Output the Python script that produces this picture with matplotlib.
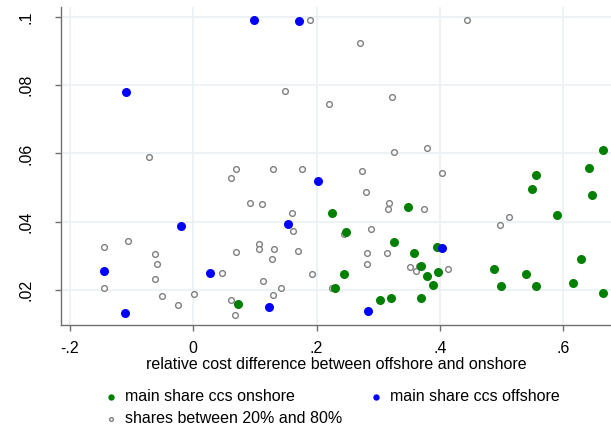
import matplotlib.pyplot as plt

plt.rcParams['font.family'] = ['Liberation Sans', 'DejaVu Sans']

# main share ccs onshore
on_x = [0.073, 0.225, 0.248, 0.230, 0.245, 0.303, 0.321, 0.326, 0.348, 0.358,
        0.369, 0.379, 0.389, 0.369, 0.397, 0.395, 0.556, 0.549, 0.590, 0.641,
        0.646, 0.664, 0.628, 0.487, 0.499, 0.539, 0.556, 0.615, 0.664]
on_y = [0.0159, 0.0426, 0.0370, 0.0206, 0.0247, 0.0171, 0.0177, 0.0341, 0.0443, 0.0308,
        0.0270, 0.0241, 0.0215, 0.0177, 0.0253, 0.0326, 0.0537, 0.0496, 0.0420, 0.0558,
        0.0478, 0.0610, 0.0291, 0.0262, 0.0212, 0.0247, 0.0212, 0.0221, 0.0191]

# main share ccs offshore
off_x = [0.099, 0.172, -0.109, -0.019, -0.144, 0.028, -0.110, 0.202, 0.154, 0.123,
         0.283, 0.403]
off_y = [0.0991, 0.0988, 0.0780, 0.0388, 0.0256, 0.0250, 0.0133, 0.0519, 0.0393, 0.0150,
         0.0138, 0.0323]

# shares between 20% and 80%
mix_x = [-0.071, 0.190, 0.270, 0.149, 0.220, 0.322, 0.326, 0.379, 0.444, 0.070,
         0.062, 0.092, 0.112, -0.105, -0.144, -0.062, -0.058, -0.062, -0.144, -0.050,
         -0.024, 0.002, 0.047, 0.062, 0.068, 0.070, 0.107, 0.107, 0.130, 0.177,
         0.274, 0.403, 0.280, 0.317, 0.316, 0.374, 0.160, 0.162, 0.244, 0.288,
         0.131, 0.170, 0.128, 0.282, 0.314, 0.282, 0.193, 0.351, 0.361, 0.114,
         0.143, 0.130, 0.225, 0.413, 0.512, 0.497, 0.366]
mix_y = [0.0590, 0.0991, 0.0924, 0.0783, 0.0745, 0.0766, 0.0604, 0.0616, 0.0991, 0.0555,
         0.0528, 0.0455, 0.0452, 0.0344, 0.0326, 0.0305, 0.0276, 0.0232, 0.0206, 0.0182,
         0.0156, 0.0188, 0.0250, 0.0171, 0.0127, 0.0311, 0.0335, 0.0320, 0.0555, 0.0555,
         0.0549, 0.0543, 0.0487, 0.0455, 0.0437, 0.0437, 0.0426, 0.0373, 0.0364, 0.0379,
         0.0320, 0.0314, 0.0291, 0.0308, 0.0308, 0.0276, 0.0247, 0.0267, 0.0256, 0.0226,
         0.0206, 0.0185, 0.0206, 0.0262, 0.0414, 0.0390, 0.0270]

xticks = [-0.2, 0, 0.2, 0.4, 0.6]
xlabels = ['-.2', '0', '.2', '.4', '.6']
yticks = [0.02, 0.04, 0.06, 0.08, 0.1]
ylabels = ['.02', '.04', '.06', '.08', '.1']

fig = plt.figure(figsize=(6.11, 4.26), dpi=100)
ax = fig.add_axes([61/611, 1 - 325/426, 550/611, 318/426])

h_mix = ax.scatter(mix_x, mix_y, s=17, facecolors='white', edgecolors='#7f7f7f',
                   linewidths=1.0, zorder=3, label='shares between 20% and 80%')
h_on = ax.scatter(on_x, on_y, s=30, color='#008000', zorder=4,
                  label='main share ccs onshore')
h_off = ax.scatter(off_x, off_y, s=30, color='#0000ff', zorder=5,
                   label='main share ccs offshore')

ax.set_xlim(-0.214, 0.677)
ax.set_ylim(0.0097, 0.1029)
ax.set_xticks(xticks)
ax.set_xticklabels(xlabels)
ax.set_yticks(yticks)
ax.set_yticklabels(ylabels, rotation=90, va='center')
ax.grid(True, color='#eaf1f3', linewidth=1.2, zorder=0)
ax.set_axisbelow(True)

for side in ['top', 'right']:
    ax.spines[side].set_visible(False)
for side in ['left', 'bottom']:
    ax.spines[side].set_color('#707070')
    ax.spines[side].set_linewidth(1.0)
ax.tick_params(axis='both', colors='#707070', labelcolor='black', labelsize=11.5,
               length=4.5, width=1.0)
ax.tick_params(axis='x', pad=7)
ax.tick_params(axis='y', pad=15)

ax.set_xlabel('relative cost difference between offshore and onshore', fontsize=11.5,
              labelpad=1)

fig.legend(handles=[h_on, h_mix, h_off], ncol=2, loc='upper left',
           bbox_to_anchor=(98/611, 1 - 383/426), frameon=False, fontsize=11.5,
           markerscale=0.65, handlelength=0.8, handletextpad=0.5,
           columnspacing=1.7, labelspacing=0.42, borderaxespad=0)

fig.savefig('out.png', dpi=100)
